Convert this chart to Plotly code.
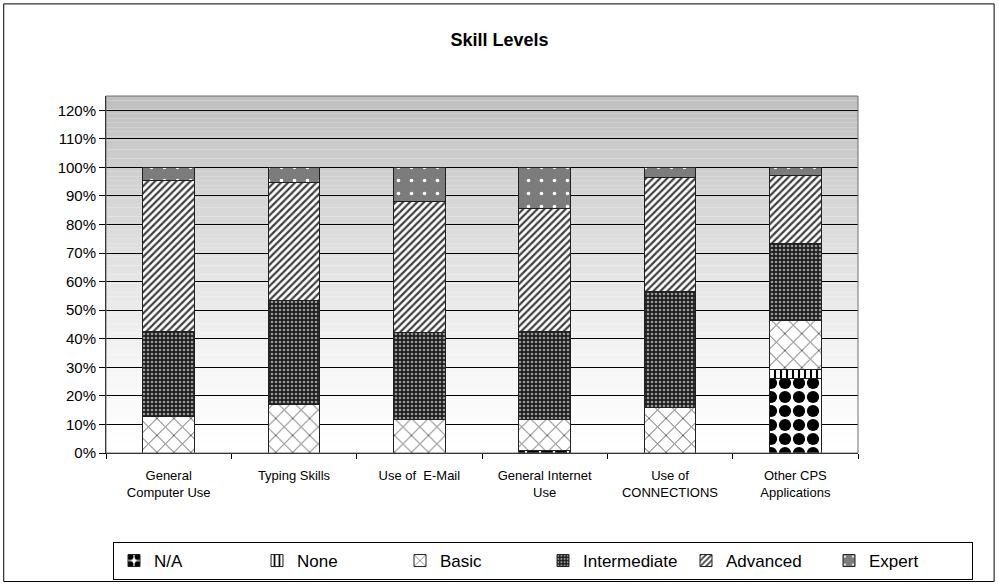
import plotly.graph_objects as go

# categories and stacked shares (fraction of respondents)
categories = ["General<br>Computer Use", "Typing Skills", "Use of  E-Mail",
              "General Internet<br>Use", "Use of<br>CONNECTIONS", "Other CPS<br>Applications"]
na_vals = [0.0, 0.0, 0.0, 0.01, 0.0, 0.261]
none_vals = [0.0, 0.0, 0.0, 0.0, 0.0, 0.033]
basic_vals = [0.127, 0.170, 0.118, 0.108, 0.160, 0.169]
intermediate_vals = [0.297, 0.365, 0.303, 0.306, 0.407, 0.271]
advanced_vals = [0.531, 0.411, 0.458, 0.432, 0.398, 0.236]
expert_vals = [0.045, 0.054, 0.121, 0.144, 0.035, 0.030]

#pattern style per level
styles = {
    "N/A": dict(shape=".", fgcolor="black", bgcolor="white", size=14, solidity=0.6, fgopacity=1),
    "None": dict(shape="|", fgcolor="black", bgcolor="white", size=6, solidity=0.35, fgopacity=1),
    "Basic": dict(shape="x", fgcolor="#555555", bgcolor="white", size=12, solidity=0.15, fgopacity=1),
    "Intermediate": dict(shape=".", fgcolor="#9a9a9a", bgcolor="#1e1e1e", size=4, solidity=0.35, fgopacity=1),
    "Advanced": dict(shape="/", fgcolor="#404040", bgcolor="white", size=5, solidity=0.45, fgopacity=1),
    "Expert": dict(shape=".", fgcolor="white", bgcolor="#7c7c7c", size=13, solidity=0.06, fgopacity=1),
}
series = [("N/A", na_vals), ("None", none_vals), ("Basic", basic_vals),
          ("Intermediate", intermediate_vals), ("Advanced", advanced_vals), ("Expert", expert_vals)]

fig = go.Figure()
for name, vals in series:
    fig.add_trace(go.Bar(
        x=categories, y=vals, name=name,
        marker=dict(color="black", pattern=styles[name], line=dict(color="#202020", width=1)),
    ))

#gradient background of the plot area (gray at top, white at bottom)
shapes = []
n = 80
top = 1.25
for i in range(n):
    y0 = top * i / n
    y1 = top * (i + 1) / n
    t = (i + 0.5) / n
    g = int(round(255 - 65 * t ** 1.3))
    shapes.append(dict(type="rect", xref="paper", yref="y", x0=0, x1=1, y0=y0, y1=y1,
                       fillcolor=f"rgb({g},{g},{g})", line=dict(width=0), layer="below"))
#plot area border
shapes.append(dict(type="rect", xref="paper", yref="paper", x0=0, x1=1, y0=0, y1=1,
                   line=dict(color="#707070", width=1)))
#outer chart frame
shapes.append(dict(type="rect", xref="paper", yref="paper", x0=-0.136, x1=1.181, y0=-0.36, y1=1.258,
                   line=dict(color="black", width=1)))

fig.update_layout(
    width=999, height=584,
    barmode="stack", bargap=0.59,
    paper_bgcolor="white", plot_bgcolor="white",
    font=dict(family="Liberation Sans, Arial, sans-serif", color="black"),
    title=dict(text="<b>Skill Levels</b>", x=0.5, xref="container", y=1 - 40 / 584, yref="container",
               yanchor="middle", xanchor="center", font=dict(size=18)),
    margin=dict(l=106, r=141, t=96, b=131, autoexpand=False),
    shapes=shapes,
    showlegend=True,
    legend=dict(orientation="h", x=(973 - 106) / 752, xanchor="right",
                y=-(561 - 453) / 357, yanchor="middle",
                bordercolor="black", borderwidth=1, bgcolor="white",
                font=dict(size=17), entrywidth=98, itemwidth=30, traceorder="normal"),
)
fig.update_xaxes(showgrid=False, ticks="outside", tickson="boundaries", ticklen=5,
                 tickcolor="black", showline=True, linecolor="black", tickfont=dict(size=13),
                 ticklabelstandoff=10)
fig.update_yaxes(range=[0, 1.25], dtick=0.1, tickformat=".0%", showgrid=True, gridcolor="black",
                 gridwidth=1, ticks="outside", ticklen=6, tickcolor="black", showline=True,
                 linecolor="black", tickfont=dict(size=15), zeroline=False)

fig.write_html("out.html", config={"displayModeBar": False},
               post_script="document.body.style.margin='0';")
